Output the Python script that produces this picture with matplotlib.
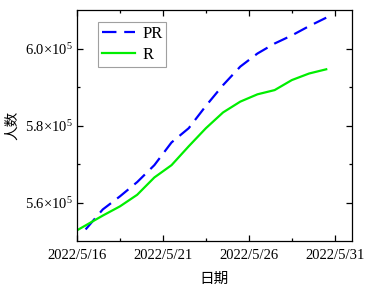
import matplotlib
matplotlib.use("Agg")
import matplotlib.pyplot as plt
import matplotlib.ticker as mticker
import numpy as np
import datetime as dt

# ---- data (values in units of 1e5 people) ----
start_date = dt.date(2022, 5, 16)
pr_days = [0.5 + i for i in range(15)]          # days after 2022/5/16
pr_values = [5.530, 5.582, 5.616, 5.653, 5.697, 5.756, 5.793, 5.851,
             5.905, 5.953, 5.987, 6.013, 6.034, 6.058, 6.080]
r_days = [-0.5 + i for i in range(16)]
r_values = [5.515, 5.5405, 5.566, 5.590, 5.620, 5.665, 5.697, 5.746, 5.793,
            5.834, 5.862, 5.881, 5.892, 5.918, 5.935, 5.946]
series_labels = ["PR", "R"]
x_tick_days = [0, 5, 10, 15]
x_label = "日期"
y_label = "人数"

plt.rcParams["font.family"] = ["Liberation Serif", "Noto Sans CJK SC"]
plt.rcParams["mathtext.fontset"] = "custom"
plt.rcParams["mathtext.rm"] = "Liberation Serif"
plt.rcParams["mathtext.it"] = "Liberation Serif:italic"

fig = plt.figure(figsize=(3.65, 2.88), dpi=100)
ax = fig.add_axes([77/365, 1-241/288, (352-77)/365, (241-10)/288])

ax.plot(pr_days, np.array(pr_values)*1e5, color="#0000ff", lw=1.6,
        dashes=(6.5, 3.5), label=series_labels[0])
ax.plot(r_days, np.array(r_values)*1e5, color="#00ee00", lw=1.6,
        label=series_labels[1])

ax.set_xlim(0, 16)
ax.set_ylim(5.5e5, 6.1e5)

ax.set_xticks(x_tick_days)
labels = []
for d in x_tick_days:
    day = start_date + dt.timedelta(days=d)
    labels.append(f"{day.year}/{day.month}/{day.day}")
ax.set_xticklabels(labels)
ax.set_xticks([2.5, 7.5, 12.5], minor=True)

ax.set_yticks([5.6e5, 5.8e5, 6.0e5])
ax.set_yticks([5.7e5, 5.9e5], minor=True)
ax.yaxis.set_major_formatter(mticker.FuncFormatter(
    lambda v, p: r"%.1f$\times$10$^{5}$" % (v/1e5)))

ax.tick_params(which="both", direction="in", top=True, right=True,
               labelsize=10.5, width=0.9)
ax.tick_params(which="major", length=4)
ax.tick_params(axis="y", which="major", pad=3)
ax.tick_params(axis="x", which="major", pad=6)
ax.tick_params(which="minor", length=2.5)
for s in ax.spines.values():
    s.set_linewidth(0.9)

ax.set_xlabel(x_label, fontsize=10.5, family=["Noto Sans CJK SC"], labelpad=7)
ax.set_ylabel(y_label, fontsize=10.5, family=["Noto Sans CJK SC"])
ax.yaxis.set_label_coords(-0.212, 0.5)

leg = ax.legend(loc="upper left", bbox_to_anchor=(0.076, 0.948),
                fancybox=False, edgecolor="#a0a0a0", fontsize=12,
                handlelength=2.0, handletextpad=0.4, borderpad=0.25,
                labelspacing=0.3, borderaxespad=0, framealpha=1)
leg.get_frame().set_linewidth(0.8)

fig.savefig("out.png", dpi=100)
